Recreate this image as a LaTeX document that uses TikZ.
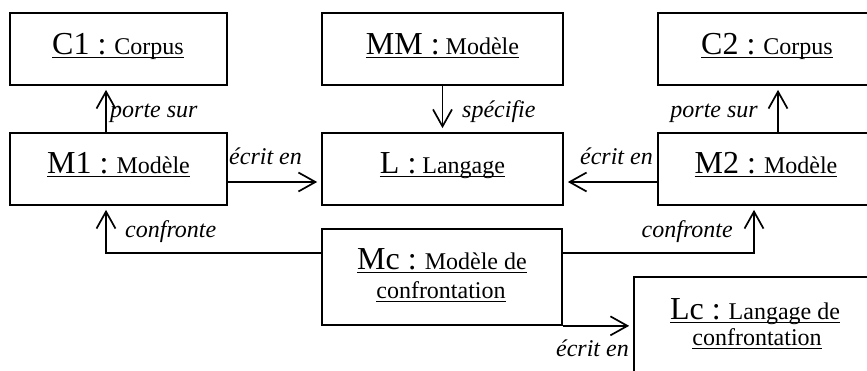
\documentclass[tikz,border=0pt]{standalone}
\usepackage{fontspec}
\setmainfont{Liberation Serif}
\usetikzlibrary{arrows.meta}
\newcommand\szA{\fontsize{32}{38}\selectfont}
\newcommand\szB{\fontsize{24}{29}\selectfont}
\newcommand\myul[1]{\setbox0\hbox{#1}\rlap{\rule[-4.4pt]{\wd0}{1.6pt}}\box0}
\begin{document}
\begin{tikzpicture}[x=1pt,y=-1pt,
  box/.style={draw,line width=1.7pt,inner sep=0pt,rectangle},
  conn/.style={line width=1.7pt,-{Straight Barb[length=17pt,width=19pt,line width=1.7pt]},shorten >=4pt},
  lbl/.style={font=\szB\itshape,inner sep=0pt},
  txt/.style={inner sep=0pt,anchor=base}]
\useasboundingbox (0,0) rectangle (867,370);
\clip (0,0) rectangle (867,370);
% boxes
\node[box,minimum width=217pt,minimum height=72pt] (C1) at (118.5,49) {};
\node[box,minimum width=241pt,minimum height=72pt] (MM) at (442.5,49) {};
\node[box,minimum width=218pt,minimum height=72pt] (C2) at (767,49) {};
\node[box,minimum width=217pt,minimum height=72pt] (M1) at (118.5,169) {};
\node[box,minimum width=241pt,minimum height=72pt] (L) at (442.5,169) {};
\node[box,minimum width=218pt,minimum height=72pt] (M2) at (767,169) {};
\node[box,minimum width=240pt,minimum height=96pt] (Mc) at (442,277) {};
\node[box,minimum width=244pt,minimum height=96pt] (Lc) at (756,325) {};
% texts
\node[txt] (C1t) at (118,54) {\myul{\szA C1 :\szB{} Corpus}};
\node[txt] (MMt) at (442.5,54) {\myul{\szA MM :\szB{} Modèle}};
\node[txt] (C2t) at (767,54) {\myul{\szA C2 :\szB{} Corpus}};
\node[txt] (M1t) at (118.5,173) {\myul{\szA M1 :\szB{} Modèle}};
\node[txt] (Lt) at (442.5,173) {\myul{\szA L :\szB{} Langage}};
\node[txt] (M2t) at (766,173) {\myul{\szA M2 :\szB{} Modèle}};
\node[txt] (Mct1) at (442,269) {\myul{\szA Mc :\szB{} Modèle de}};
\node[txt] (Mct2) at (441,298) {\myul{\szB confrontation}};
\node[txt] (Lct1) at (755,319) {\myul{\szA Lc :\szB{} Langage de}};
\node[txt] (Lct2) at (757,345) {\myul{\szB confrontation}};
% connectors
\draw[conn] ([xshift=-12.5pt]M1.north) -- ([xshift=-12.5pt]C1.south);
\draw[conn] (MM.south) -- (L.north);
\draw[conn] ([yshift=-13pt]M1.east) -- ([yshift=-13pt]L.west);
\draw[conn] ([yshift=-13pt]M2.west) -- ([yshift=-13pt]L.east);
\draw[conn] ([xshift=11pt]M2.north) -- ([xshift=11pt]C2.south);
\draw[conn] ([yshift=24pt]Mc.west) -| ([xshift=-12.5pt]M1.south);
\draw[conn] ([yshift=24pt]Mc.east) -| ([xshift=-13pt]M2.south);
\draw[conn] (Mc.south east) -- (Mc.south east -| Lc.west);
% labels
\node[lbl,anchor=base west] (pl1) at (110,117) {porte sur};
\node[lbl,anchor=base west] (sp) at (462,117) {spécifie};
\node[lbl,anchor=base east] (pl2) at (758,117) {porte sur};
\node[lbl,anchor=base west] (e1) at (229,164) {écrit en};
\node[lbl,anchor=base east] (e2) at (653,164) {écrit en};
\node[lbl,anchor=base west] (cf1) at (125,237) {confronte};
\node[lbl,anchor=base east] (cf2) at (733,237) {confronte};
\node[lbl,anchor=base east] (e3) at (629,356) {écrit en};
\end{tikzpicture}
\end{document}
